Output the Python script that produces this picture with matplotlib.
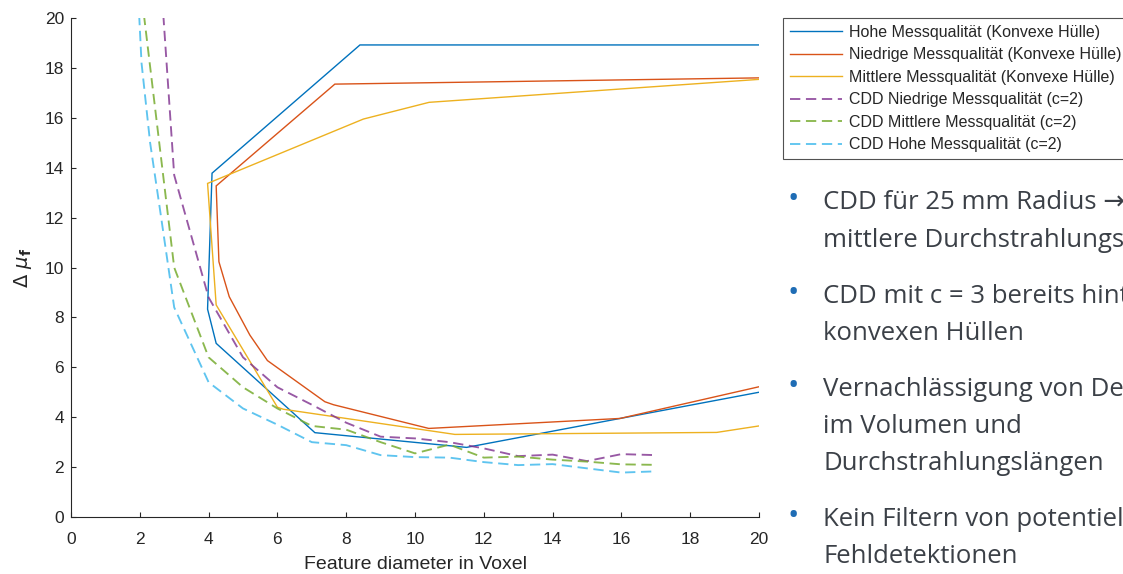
import matplotlib
matplotlib.use("Agg")
import matplotlib.pyplot as plt

# ---- data -------------------------------------------------------------
# convex hull curves (solid)
hull_hohe_x = [20, 8.4, 4.1, 3.97, 4.22, 7.09, 11.5, 20]
hull_hohe_y = [18.92, 18.92, 13.78, 8.33, 6.96, 3.38, 2.79, 5.0]

hull_niedrig_x = [20, 7.67, 4.22, 4.30, 4.60, 5.20, 5.71, 7.38, 7.63, 10.4, 15.96, 20]
hull_niedrig_y = [17.6, 17.35, 13.27, 10.23, 8.83, 7.29, 6.27, 4.62, 4.5, 3.55, 3.95, 5.22]

hull_mittel_x = [20, 10.41, 8.5, 3.97, 4.22, 6.0, 6.17, 11.16, 18.77, 20]
hull_mittel_y = [17.54, 16.62, 15.95, 13.37, 8.50, 4.40, 4.32, 3.31, 3.39, 3.65]

# CDD curves (dashed, c=2)
cdd_niedrig_x = [2, 3, 4, 5, 6, 7, 8, 9, 10, 11, 12, 13, 14, 15, 16, 17]
cdd_niedrig_y = [34.0, 13.7, 8.8, 6.4, 5.2, 4.5, 3.78, 3.22, 3.15, 3.0, 2.75, 2.44, 2.5, 2.24, 2.52, 2.48]

cdd_mittel_x = [2, 3, 4, 5, 6, 7, 8, 9, 10, 11, 12, 13, 14, 15, 16, 17]
cdd_mittel_y = [21.5, 10.0, 6.4, 5.2, 4.35, 3.65, 3.5, 3.0, 2.55, 2.9, 2.38, 2.42, 2.3, 2.22, 2.11, 2.09]

cdd_hohe_x = [1.95, 2.05, 2.3, 2.6, 3, 4, 5, 6, 7, 8, 9, 10, 11, 12, 13, 14, 15, 16, 17]
cdd_hohe_y = [21.0, 18.2, 15.0, 12.2, 8.4, 5.4, 4.35, 3.7, 3.0, 2.88, 2.48, 2.4, 2.38, 2.2, 2.08, 2.12, 1.95, 1.78, 1.83]

legend_labels = [
    "Hohe Messqualität (Konvexe Hülle)",
    "Niedrige Messqualität (Konvexe Hülle)",
    "Mittlere Messqualität (Konvexe Hülle)",
    "CDD Niedrige Messqualität (c=2)",
    "CDD Mittlere Messqualität (c=2)",
    "CDD Hohe Messqualität (c=2)",
]

x_ticks = list(range(0, 21, 2))
y_ticks = list(range(0, 21, 2))

bullet_lines = [
    ["CDD für 25 mm Radius \u2192", "mittlere Durchstrahlungslänge"],
    ["CDD mit c = 3 bereits hinter", "konvexen Hüllen"],
    ["Vernachlässigung von Defekten", "im Volumen und", "Durchstrahlungslängen"],
    ["Kein Filtern von potentiellen", "Fehldetektionen"],
]

# ---- style ------------------------------------------------------------
C_BLUE = "#0072BD"
C_RED = "#D95319"
C_YELLOW = "#EDB120"
C_PURPLE = "#7E2F8E"
C_GREEN = "#77AC30"
C_CYAN = "#4DBEEE"
AX_COL = "#262626"

plt.rcParams["font.family"] = ["Liberation Sans", "DejaVu Sans"]

W, H, DPI = 1123, 574, 100
fig = plt.figure(figsize=(W / DPI, H / DPI), dpi=DPI)
fig.patch.set_facecolor("white")

AX_L, AX_R, AX_T, AX_B = 71, 759, 18, 517
ax = fig.add_axes([AX_L / W, 1 - AX_B / H, (AX_R - AX_L) / W, (AX_B - AX_T) / H])

solid_kw = dict(lw=1.0, solid_joinstyle="miter")
dash_kw = dict(lw=1.35, dashes=(5.5, 3.0))

l1, = ax.plot(hull_hohe_x, hull_hohe_y, color=C_BLUE, **solid_kw)
l2, = ax.plot(hull_niedrig_x, hull_niedrig_y, color=C_RED, **solid_kw)
l3, = ax.plot(hull_mittel_x, hull_mittel_y, color=C_YELLOW, **solid_kw)
l4, = ax.plot(cdd_niedrig_x, cdd_niedrig_y, color=C_PURPLE, alpha=0.8, **dash_kw)
l5, = ax.plot(cdd_mittel_x, cdd_mittel_y, color=C_GREEN, alpha=0.85, **dash_kw)
l6, = ax.plot(cdd_hohe_x, cdd_hohe_y, color=C_CYAN, alpha=0.9, **dash_kw)

ax.set_xlim(0, 20)
ax.set_ylim(0, 20)
ax.set_xticks(x_ticks)
ax.set_yticks(y_ticks)
for side in ("top", "right"):
    ax.spines[side].set_visible(False)
for side in ("left", "bottom"):
    ax.spines[side].set_color(AX_COL)
    ax.spines[side].set_linewidth(0.8)
ax.tick_params(direction="in", length=3.6, width=0.8, colors=AX_COL, labelsize=12.5)
ax.tick_params(axis="x", pad=10.5)
ax.tick_params(axis="y", pad=5)

ax.set_xlabel("Feature diameter in Voxel", fontsize=14, color=AX_COL)
ax.xaxis.set_label_coords(0.5, -(569 - AX_B) / (AX_B - AX_T))
ax.xaxis.label.set_va("baseline")
ax.set_ylabel(r"$\Delta\ \mu_{\mathbf{f}}$", fontsize=14, color=AX_COL)
ax.yaxis.set_label_coords(-(AX_L - 23) / (AX_R - AX_L), 0.5)
ax.yaxis.label.set_va("center")

leg = ax.legend(
    [l1, l2, l3, l4, l5, l6], legend_labels,
    loc="upper left", bbox_to_anchor=(783 / W, 1 - 18 / H),
    bbox_transform=fig.transFigure, borderaxespad=0,
    fontsize=11.5, frameon=True, fancybox=False,
    handlelength=3.3, handletextpad=0.42, labelspacing=0.47,
    borderpad=0.42, edgecolor=AX_COL,
)
leg.get_frame().set_linewidth(0.8)
for t in leg.get_texts():
    t.set_color(AX_COL)

# ---- bullet list on the right -----------------------------------------
TEXT_COL = "#3b4047"
BULLET_COL = "#1f6db5"
baselines = [[209, 247], [303, 340], [396, 433, 470], [526, 563]]
for lines, ys in zip(bullet_lines, baselines):
    fig.text(787 / W, 1 - (ys[0] - 1) / H, "\u2022", color=BULLET_COL, fontsize=22,
             va="baseline", ha="left", family=["Open Sans", "DejaVu Sans"])
    for s, y in zip(lines, ys):
        fig.text(823 / W, 1 - y / H, s, color=TEXT_COL, fontsize=18.5,
                 va="baseline", ha="left", family=["Open Sans", "DejaVu Sans"])

fig.savefig("out.png", dpi=DPI)
